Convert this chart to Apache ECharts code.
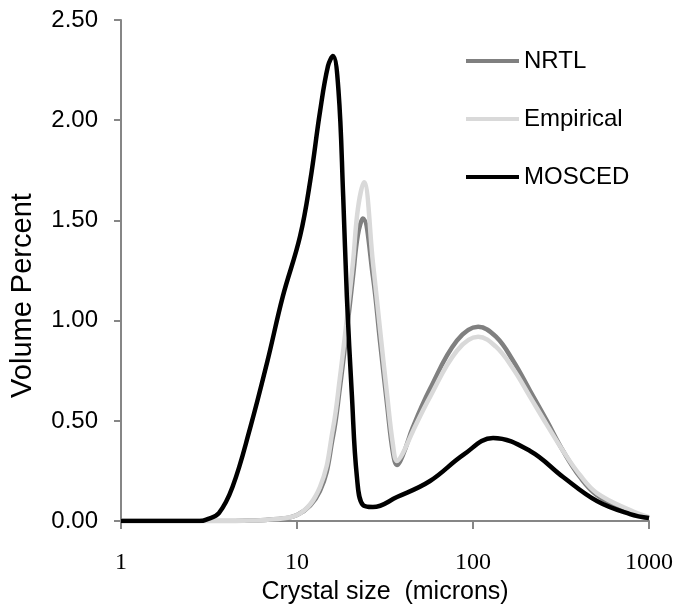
<!DOCTYPE html>
<html>
<head>
<meta charset="utf-8">
<script src="https://cdn.jsdelivr.net/npm/echarts@6/dist/echarts.min.js"></script>
<style>
  html, body { margin: 0; padding: 0; background: #fff; }
  #chart { width: 694px; height: 610px; }
</style>
</head>
<body>
<div id="chart"></div>
<script>
// crystal size (microns) and volume percent
const nrtlX = [1, 3, 5, 7, 10, 13.5, 16, 17.5, 19.2, 20.8, 22.2, 23.7, 27, 29.6, 32.5, 35.1, 37, 40, 45.6, 57, 81, 107, 135, 169, 211, 263, 325, 405, 506, 780, 1000]
const nrtlY = [0, 0, 0.002, 0.008, 0.03, 0.15, 0.42, 0.66, 0.95, 1.22, 1.43, 1.51, 1.22, 0.90, 0.58, 0.34, 0.28, 0.33, 0.47, 0.66, 0.90, 0.97, 0.92, 0.80, 0.65, 0.50, 0.35, 0.22, 0.13, 0.045, 0.015]

const empX = [1, 3, 5, 7, 10, 13.5, 16, 17.5, 19.2, 20.8, 22.2, 24, 27, 29.6, 32.5, 35.1, 37, 40, 45.6, 57, 81, 107, 135, 169, 211, 263, 325, 405, 506, 780, 1000]
const empY = [0, 0, 0.002, 0.008, 0.03, 0.17, 0.46, 0.71, 1.01, 1.29, 1.56, 1.69, 1.29, 0.96, 0.63, 0.38, 0.30, 0.34, 0.45, 0.62, 0.85, 0.92, 0.87, 0.76, 0.62, 0.48, 0.35, 0.23, 0.14, 0.055, 0.02]

const moscedX = [1, 2, 2.8, 3.1, 3.6, 4.3, 5.4, 6.8, 8.3, 10.4, 11.9, 13.5, 15, 16, 17.2, 18.3, 19.2, 20.5, 21.9, 23.7, 27, 37, 57, 88, 130, 211, 325, 506, 780, 1000]
const moscedY = [0, 0, 0, 0.01, 0.04, 0.17, 0.46, 0.80, 1.12, 1.42, 1.70, 2.04, 2.27, 2.32, 2.15, 1.62, 1.12, 0.63, 0.22, 0.08, 0.07, 0.12, 0.20, 0.33, 0.415, 0.35, 0.22, 0.10, 0.035, 0.015]

const xTicks = [1, 10, 100, 1000]
const yTicks = [0, 0.5, 1, 1.5, 2, 2.5]

const pair = (xs, ys) => xs.map((x, i) => [x, ys[i]])

const chart = echarts.init(document.getElementById('chart'))

const axisGray = '#868686'
const lineW = 4.5

const mkSeries = (name, xs, ys, color) => ({
  name: name,
  type: 'line',
  data: pair(xs, ys),
  symbol: 'none',
  smooth: 0.4,
  lineStyle: { color: color, width: lineW },
  itemStyle: { color: color }
})

chart.setOption({
  animation: false,
  grid: { left: 121, right: 45, top: 20, bottom: 86 },
  legend: {
    orient: 'vertical',
    left: 461,
    top: 44,
    itemWidth: 53,
    itemHeight: 4,
    itemGap: 34,
    icon: 'rect',
    textStyle: { fontFamily: 'Liberation Sans', fontSize: 24, color: '#000' },
    data: ['NRTL', 'Empirical', 'MOSCED']
  },
  xAxis: {
    type: 'log',
    logBase: 10,
    min: xTicks[0],
    max: xTicks[xTicks.length - 1],
    name: 'Crystal size  (microns)',
    nameLocation: 'middle',
    nameGap: 55,
    nameTextStyle: { fontFamily: 'Liberation Sans', fontSize: 25, color: '#000' },
    axisLine: { lineStyle: { color: axisGray, width: 2 } },
    axisTick: { length: 8, lineStyle: { color: axisGray, width: 2 } },
    minorTick: { show: false },
    splitLine: { show: false },
    axisLabel: {
      fontFamily: 'Liberation Serif', fontSize: 24, color: '#000', margin: 30,
      formatter: v => String(v)
    }
  },
  yAxis: {
    type: 'value',
    min: yTicks[0],
    max: yTicks[yTicks.length - 1],
    interval: 0.5,
    name: 'Volume Percent',
    nameLocation: 'middle',
    nameGap: 84,
    nameTextStyle: { fontFamily: 'Liberation Sans', fontSize: 29, color: '#000', padding: [0, 50, 0, 0] },
    axisLine: { show: true, lineStyle: { color: axisGray, width: 2 } },
    axisTick: { show: true, length: 7, lineStyle: { color: axisGray, width: 2 } },
    splitLine: { show: false },
    axisLabel: {
      fontFamily: 'Liberation Sans', fontSize: 24, color: '#000', margin: 23,
      padding: [8, 0, 0, 0],
      formatter: v => v.toFixed(2)
    }
  },
  series: [
    mkSeries('NRTL', nrtlX, nrtlY, '#808080'),
    mkSeries('Empirical', empX, empY, '#d9d9d9'),
    mkSeries('MOSCED', moscedX, moscedY, '#000000')
  ]
})

window.addEventListener('resize', () => chart.resize())
</script>
</body>
</html>
